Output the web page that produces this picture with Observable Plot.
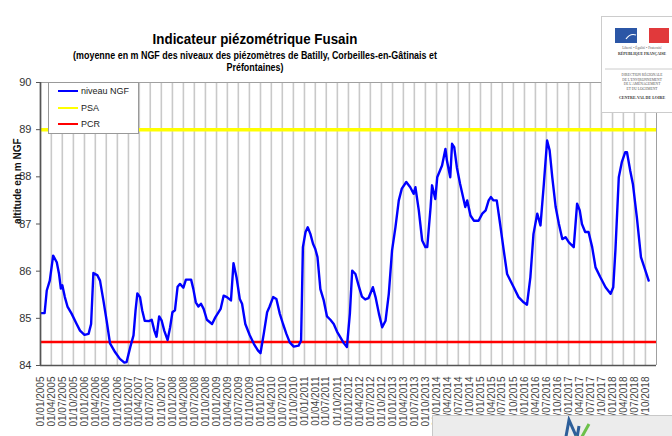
<!DOCTYPE html>
<html>
<head>
<meta charset="utf-8">
<script src="https://cdn.jsdelivr.net/npm/d3@7"></script>
<script src="https://cdn.jsdelivr.net/npm/@observablehq/plot@0.6"></script>
<style>
  html, body { margin: 0; padding: 0; background: #fff; overflow: hidden; }
  #wrap { position: relative; width: 672px; height: 436px; font-family: "Liberation Sans", Arial, sans-serif; color: #000; }
  #chart { position: absolute; left: 0; top: 0; }
  .ttl { position: absolute; left: 0; width: 510px; text-align: center; font-weight: bold; white-space: nowrap; transform-origin: 255px 50%; }
  #title { top: 31px; font-size: 15px; line-height: 15px; transform: scaleX(0.89); }
  #sub1 { top: 50px; font-size: 11px; line-height: 11px; transform: scaleX(0.81); }
  #sub2 { top: 61.5px; font-size: 11px; line-height: 11px; transform: scaleX(0.81); }
  #legend { position: absolute; left: 48px; top: 82px; width: 89px; height: 50px; background: #fff; border: 1px solid #999; font-size: 9px; color: #222; }
  #legend .it { position: absolute; left: 9px; height: 10px; line-height: 10px; white-space: nowrap; }
  #legend .sw { display: inline-block; width: 20px; height: 2px; vertical-align: middle; margin-right: 3px; position: relative; top: -1px; }
  #logo { position: absolute; left: 601px; top: 16px; width: 75px; height: 95px; background: #fff; border: 1px solid #ccc; }
  #foot { position: absolute; left: 432px; top: 415px; width: 245px; height: 30px; background: #ececec; border: 1px solid #c8c8c8; }
</style>
</head>
<body>
<div id="wrap">
  <div id="chart"></div>
  <div class="ttl" id="title">Indicateur piézométrique Fusain</div>
  <div class="ttl" id="sub1">(moyenne en m NGF des niveaux des piézomètres de Batilly, Corbeilles-en-Gâtinais et</div>
  <div class="ttl" id="sub2">Préfontaines)</div>
  <div id="legend"></div>
  <div id="logo">
    <svg width="75" height="95" xmlns="http://www.w3.org/2000/svg" font-family="Liberation Serif, serif">
      <rect x="13" y="11" width="22" height="15" fill="#2b56a6"/>
      <rect x="35" y="11" width="12" height="15" fill="#fff"/>
      <rect x="47" y="11" width="20" height="15" fill="#e1393b"/>
      <path d="M24 22 q4 -6 10 -4" stroke="#fff" stroke-width="1.2" fill="none"/>
      <text x="40" y="32" font-size="3.5" text-anchor="middle" fill="#555">Liberté • Égalité • Fraternité</text>
      <text x="40" y="38" font-size="3.8" text-anchor="middle" fill="#333" font-weight="bold">RÉPUBLIQUE FRANÇAISE</text>
      <line x1="3" y1="52" x2="75" y2="52" stroke="#ccc"/>
      <text x="40" y="59" font-size="3.6" text-anchor="middle" fill="#555">DIRECTION RÉGIONALE</text>
      <text x="40" y="63.5" font-size="3.6" text-anchor="middle" fill="#555">DE L'ENVIRONNEMENT</text>
      <text x="40" y="68" font-size="3.6" text-anchor="middle" fill="#555">DE L'AMÉNAGEMENT</text>
      <text x="40" y="72.5" font-size="3.6" text-anchor="middle" fill="#555">ET DU LOGEMENT</text>
      <text x="40" y="82" font-size="4" text-anchor="middle" fill="#333" font-weight="bold">CENTRE-VAL DE LOIRE</text>
    </svg>
  </div>
  <div id="foot">
    <svg width="245" height="30" xmlns="http://www.w3.org/2000/svg">
      <path d="M132 26 L136 4 L144 22 L146 10" stroke="#2d5f9a" stroke-width="3" fill="none"/>
      <path d="M142 20 L146 26 L156 8" stroke="#6cc04a" stroke-width="3" fill="none"/>
    </svg>
  </div>
</div>
<script>
// ---- Data ----
const dates = [
  "2005-01-07","2005-02-04","2005-02-22","2005-03-19","2005-04-16","2005-05-16","2005-06-04","2005-06-19",
  "2005-07-01","2005-07-22","2005-08-13","2005-09-16","2005-10-28","2005-11-25","2006-01-01","2006-02-04",
  "2006-02-25","2006-03-16","2006-04-19","2006-05-10","2006-06-07","2006-07-04","2006-08-01","2006-09-13",
  "2006-10-22","2006-11-28","2006-12-16","2007-01-16","2007-02-12","2007-03-01","2007-03-16","2007-04-07",
  "2007-04-25","2007-05-16","2007-06-19","2007-07-13","2007-08-04","2007-08-22","2007-09-13","2007-10-04",
  "2007-10-25","2007-11-22","2007-12-13","2008-01-01","2008-01-22","2008-02-13","2008-03-04","2008-04-01",
  "2008-04-22","2008-06-04","2008-06-22","2008-07-13","2008-08-04","2008-08-25","2008-09-16","2008-10-13",
  "2008-11-25","2008-12-22","2009-02-04","2009-03-01","2009-03-28","2009-05-01","2009-05-22","2009-06-16",
  "2009-07-13","2009-08-01","2009-08-28","2009-10-04","2009-11-07","2009-12-10","2010-01-01","2010-01-28",
  "2010-02-25","2010-03-16","2010-04-16","2010-05-13","2010-06-10","2010-07-07","2010-08-04","2010-09-01",
  "2010-10-04","2010-11-13","2010-12-04","2010-12-19","2011-01-10","2011-01-28","2011-02-19","2011-03-13",
  "2011-04-01","2011-04-19","2011-05-13","2011-06-10","2011-07-07","2011-08-04","2011-09-01","2011-09-28",
  "2011-10-25","2011-11-22","2011-12-19","2012-01-13","2012-02-01","2012-02-28","2012-03-25","2012-04-22",
  "2012-05-19","2012-06-16","2012-07-22","2012-08-13","2012-09-10","2012-10-07","2012-11-04","2012-12-01",
  "2012-12-28","2013-01-25","2013-02-22","2013-03-19","2013-04-25","2013-05-28","2013-06-25","2013-07-10",
  "2013-08-07","2013-09-04","2013-10-01","2013-10-16","2013-11-13","2013-11-25","2013-12-22","2014-01-07",
  "2014-02-16","2014-03-16","2014-03-28","2014-04-25","2014-05-10","2014-05-28","2014-06-19","2014-07-16",
  "2014-08-13","2014-08-28","2014-09-13","2014-10-10","2014-11-07","2014-12-16","2015-01-16","2015-02-13",
  "2015-03-10","2015-03-28","2015-04-19","2015-05-16","2015-06-13","2015-07-13","2015-08-10","2015-10-04",
  "2015-11-13","2015-12-25","2016-01-22","2016-02-19","2016-03-16","2016-04-16","2016-05-13","2016-06-10",
  "2016-07-07","2016-07-28","2016-08-19","2016-09-16","2016-10-13","2016-11-10","2016-12-07","2017-01-04",
  "2017-02-13","2017-03-13","2017-04-04","2017-04-22","2017-05-19","2017-06-16","2017-07-16","2017-08-13",
  "2017-09-22","2017-11-04","2017-12-16","2018-01-07","2018-01-25","2018-02-22","2018-03-19","2018-04-16",
  "2018-05-01","2018-05-28","2018-06-19","2018-07-22","2018-08-25","2018-10-01","2018-10-28"
];
const levels = [
  85.11,85.11,85.59,85.80,86.33,86.19,85.94,85.63,
  85.70,85.45,85.25,85.10,84.88,84.74,84.65,84.67,
  84.88,85.96,85.91,85.80,85.38,84.95,84.47,84.28,
  84.14,84.06,84.07,84.39,84.64,85.17,85.53,85.45,
  85.17,84.95,84.94,84.97,84.74,84.61,85.04,84.95,
  84.74,84.54,84.81,85.13,85.17,85.67,85.73,85.65,
  85.82,85.82,85.63,85.34,85.25,85.31,85.20,84.97,
  84.88,85.02,85.20,85.48,85.45,85.38,86.17,85.87,
  85.41,85.31,84.88,84.64,84.46,84.32,84.26,84.67,
  85.13,85.24,85.45,85.41,85.10,84.88,84.67,84.49,
  84.40,84.42,84.53,86.51,86.83,86.93,86.79,86.58,
  86.47,86.30,85.62,85.38,85.04,84.97,84.88,84.72,
  84.60,84.48,84.39,85.10,86.01,85.94,85.70,85.46,
  85.40,85.43,85.66,85.45,85.10,84.81,84.95,85.52,
  86.44,86.93,87.50,87.75,87.89,87.78,87.64,87.78,
  87.29,86.65,86.51,86.51,87.36,87.82,87.53,87.99,
  88.24,88.59,88.35,87.99,88.70,88.63,88.20,87.85,
  87.53,87.36,87.50,87.18,87.07,87.07,87.22,87.29,
  87.50,87.57,87.50,87.50,87.00,86.44,85.94,85.66,
  85.45,85.34,85.29,85.87,86.79,87.22,86.97,87.85,
  88.77,88.56,87.99,87.36,87.00,86.68,86.72,86.61,
  86.51,87.43,87.29,87.00,86.83,86.83,86.51,86.08,
  85.87,85.66,85.52,85.66,86.44,87.99,88.31,88.52,
  88.52,88.13,87.85,87.14,86.30,86.01,85.80
];
const seriesName = "niveau NGF";
const thresholdNames = ["PSA", "PCR"];
const thresholdValues = [89, 84.5];
const seriesColors = ["#0000ff", "#ffff00", "#ff0000"];
const yTicks = [84, 85, 86, 87, 88, 89, 90];
const yLabel = "altitude en m NGF";
const xStart = "2005-01-01";
const xEnd = "2019-01-01";

// ---- Build ----
const data = dates.map((d, i) => ({date: new Date(d + "T00:00:00Z"), level: levels[i]}));
const x0 = new Date(xStart + "T00:00:00Z"), x1 = new Date(xEnd + "T00:00:00Z");
const xTicks = d3.utcMonth.every(3).range(x0, x1);
const fmt = d3.utcFormat("%d/%m/%Y");

const chart = Plot.plot({
  width: 672,
  height: 436,
  marginTop: 82,
  marginBottom: 71,
  marginLeft: 40,
  marginRight: 16,
  style: {fontFamily: "Liberation Sans, Arial, sans-serif", background: "transparent", overflow: "visible"},
  x: {type: "utc", domain: [x0, x1]},
  y: {domain: [84, 90]},
  marks: [
    Plot.ruleX(xTicks, {stroke: "#c9c9c9", strokeWidth: 1.6}),
    Plot.ruleY([yTicks[yTicks.length - 1]], {stroke: "#a0a0a0", strokeWidth: 1}),
    Plot.ruleX([x1], {stroke: "#a0a0a0", strokeWidth: 1}),
    Plot.ruleY([thresholdValues[0]], {stroke: seriesColors[1], strokeWidth: 3.5}),
    Plot.ruleY([thresholdValues[1]], {stroke: seriesColors[2], strokeWidth: 2.5}),
    Plot.line(data, {x: "date", y: "level", stroke: seriesColors[0], strokeWidth: 2.4, strokeLinejoin: "round"}),
    Plot.ruleX([x0], {stroke: "#555", strokeWidth: 1.6}),
    Plot.ruleY([yTicks[0]], {stroke: "#555", strokeWidth: 1.6}),
    Plot.axisY({ticks: yTicks, tickFormat: d3.format("d"), tickSize: 4, tickPadding: 5, fontSize: 11, label: null, color: "#333", stroke: "#555"}),
    Plot.axisX({ticks: xTicks, tickFormat: fmt, tickRotate: -90, tickSize: 0, tickPadding: 11, fontSize: 10, label: null, color: "#444"}),
    Plot.text([yLabel], {frameAnchor: "left", dx: -23, rotate: -90, fontWeight: "bold", fontSize: 10, fill: "#111"})
  ]
});
document.getElementById("chart").appendChild(chart);

// ---- Legend ----
const legend = document.getElementById("legend");
const legendNames = [seriesName, ...thresholdNames];
const legendTops = [3, 20, 36];
legendNames.forEach((name, i) => {
  const it = document.createElement("div");
  it.className = "it";
  it.style.top = legendTops[i] + "px";
  const sw = document.createElement("span");
  sw.className = "sw";
  sw.style.background = seriesColors[i];
  it.appendChild(sw);
  it.appendChild(document.createTextNode(name));
  legend.appendChild(it);
});
</script>
</body>
</html>
